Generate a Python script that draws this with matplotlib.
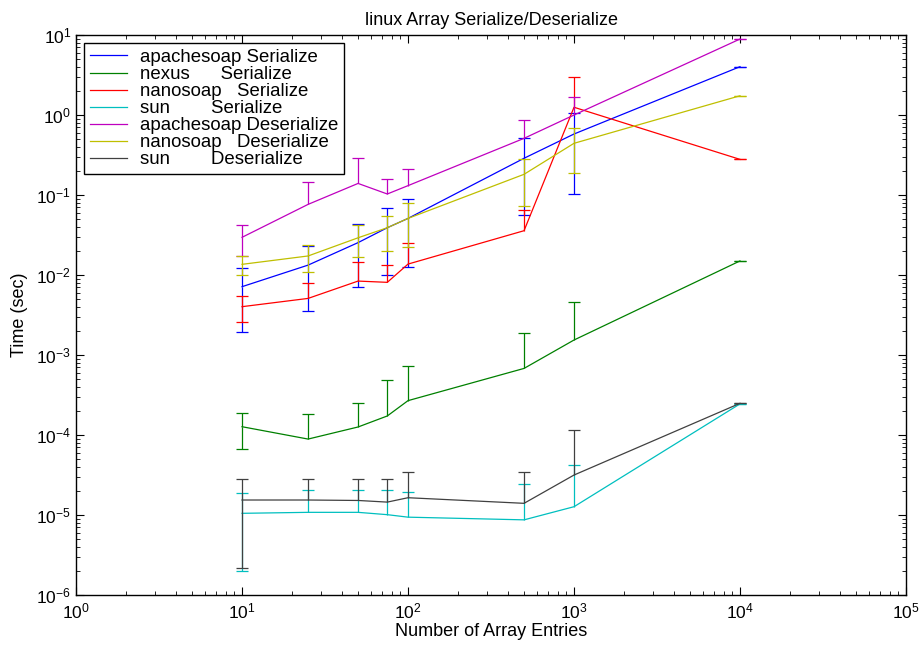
import numpy as np
import matplotlib
matplotlib.use("Agg")
import matplotlib.pyplot as plt
from matplotlib.ticker import LogLocator, NullFormatter

plt.rcParams['font.family'] = ['Liberation Sans', 'DejaVu Sans']
plt.rcParams['mathtext.fontset'] = 'custom'
plt.rcParams['mathtext.rm'] = 'Liberation Sans'
plt.rcParams['mathtext.it'] = 'Liberation Sans:italic'

nan = np.nan
x = [10, 25, 50, 75, 100, 500, 1000, 10000]

labels = ["apachesoap Serialize", "nexus      Serialize", "nanosoap   Serialize",
          "sun        Serialize", "apachesoap Deserialize", "nanosoap   Deserialize",
          "sun        Deserialize"]
colors = ['#0000ff', '#008000', '#ff0000', '#00bfbf', '#bf00bf', '#bfbf00', '#404040']

apache_ser = [7.15e-3, 1.33e-2, 2.54e-2, 3.9e-2, 5.1e-2, 0.288, 0.579, 4.02]
apache_ser_up = [5.0e-3, 9.8e-3, 1.83e-2, 2.9e-2, 3.85e-2, 0.223, 0.475, 0]
apache_ser_lo = [5.2e-3, 9.8e-3, 1.83e-2, 2.9e-2, 3.85e-2, 0.231, 0.475, 0]

nexus_ser = [1.27e-4, 8.9e-5, 1.26e-4, 1.73e-4, 2.69e-4, 6.8e-4, 1.54e-3, 1.5e-2]
nexus_ser_up = [6.0e-5, 9.5e-5, 1.23e-4, 3.18e-4, 4.66e-4, 1.19e-3, 3.1e-3, 0]
nexus_ser_lo = [6.0e-5, nan, nan, nan, nan, nan, nan, 0]

nano_ser = [4.02e-3, 5.1e-3, 8.4e-3, 8.1e-3, 1.37e-2, 3.58e-2, 1.25, 0.279]
nano_ser_up = [1.4e-3, 2.9e-3, 6.2e-3, 5.2e-3, 1.16e-2, 2.9e-2, 1.76, 0]
nano_ser_lo = [1.45e-3, nan, nan, nan, nan, nan, nan, 0]

sun_ser = [1.05e-5, 1.08e-5, 1.08e-5, 1.01e-5, 9.4e-6, 8.7e-6, 1.27e-5, 2.45e-4]
sun_ser_up = [8.5e-6, 9.6e-6, 9.6e-6, 1.06e-5, 1.01e-5, 1.55e-5, 2.95e-5, 0]
sun_ser_lo = [8.5e-6, nan, nan, nan, nan, nan, nan, 0]

apache_des = [2.96e-2, 7.64e-2, 0.1396, 0.103, 0.131, 0.511, 1.0, 8.91]
apache_des_up = [1.22e-2, 7.06e-2, 0.153, 0.055, 0.08, 0.364, 0.69, 0]
apache_des_lo = [1.22e-2, nan, nan, nan, nan, nan, nan, 0]

nano_des = [1.36e-2, 1.73e-2, 2.92e-2, 3.9e-2, 5.1e-2, 0.1815, 0.443, 1.74]
nano_des_up = [3.7e-3, 6.4e-3, 1.35e-2, 1.6e-2, 2.9e-2, 0.104, 0.254, 0]
nano_des_lo = [3.7e-3, 6.4e-3, 1.25e-2, 1.9e-2, 2.85e-2, 0.108, 0.256, 0]

sun_des = [1.54e-5, 1.54e-5, 1.52e-5, 1.45e-5, 1.645e-5, 1.40e-5, 3.16e-5, 2.49e-4]
sun_des_up = [1.3e-5, 1.32e-5, 1.34e-5, 1.41e-5, 1.78e-5, 2.02e-5, 8.4e-5, 0]
sun_des_lo = [1.32e-5, nan, nan, nan, nan, nan, nan, 0]

series = [
    (apache_ser, apache_ser_lo, apache_ser_up),
    (nexus_ser, nexus_ser_lo, nexus_ser_up),
    (nano_ser, nano_ser_lo, nano_ser_up),
    (sun_ser, sun_ser_lo, sun_ser_up),
    (apache_des, apache_des_lo, apache_des_up),
    (nano_des, nano_des_lo, nano_des_up),
    (sun_des, sun_des_lo, sun_des_up),
]

fig = plt.figure(figsize=(9.24, 6.45), dpi=100)
ax = fig.add_axes([0.0823, 0.0775, 0.8982, 0.8682])
ax.set_xscale('log')
ax.set_yscale('log')

xa = np.array(x, dtype=float)
for (y, lo, up), lab, c in zip(series, labels, colors):
    y = np.array(y); lo = np.array(lo); up = np.array(up)
    ax.plot(xa, y, color=c, lw=0.9, label=lab)
    top = y + up
    bot = y - lo
    ax.vlines(xa, y, top, color=c, lw=0.9)
    ax.plot(xa, top, ls='none', marker='_', ms=8, mew=0.9, color=c)
    ax.vlines(xa, bot, y, color=c, lw=0.9)
    ax.plot(xa, bot, ls='none', marker='_', ms=8, mew=0.9, color=c)

ax.set_xlim(1, 1e5)
ax.set_ylim(1e-6, 10)
for axis in (ax.xaxis, ax.yaxis):
    axis.set_major_locator(LogLocator(base=10, numticks=20))
    axis.set_minor_locator(LogLocator(base=10, subs=np.arange(2, 10), numticks=20))
    axis.set_minor_formatter(NullFormatter())
ax.tick_params(which='both', direction='in', top=True, right=True, labelsize=12.5)
ax.tick_params(which='major', length=6, width=0.8)
ax.tick_params(which='minor', length=3, width=0.6)
ax.tick_params(axis='x', pad=5)
for s in ax.spines.values():
    s.set_linewidth(1.0)

ax.set_title("linux Array Serialize/Deserialize", fontsize=13, pad=7)
ax.set_xlabel("Number of Array Entries", fontsize=13, labelpad=1)
ax.set_ylabel("Time (sec)", fontsize=13, labelpad=6)

leg = ax.legend(loc='upper left', fontsize=13.4, fancybox=False, framealpha=1,
                edgecolor='black', borderaxespad=0.45, handlelength=2.0,
                labelspacing=0.0, borderpad=0.3, handletextpad=0.7)
leg.get_frame().set_linewidth(1.0)

fig.savefig("out.png", dpi=100)
